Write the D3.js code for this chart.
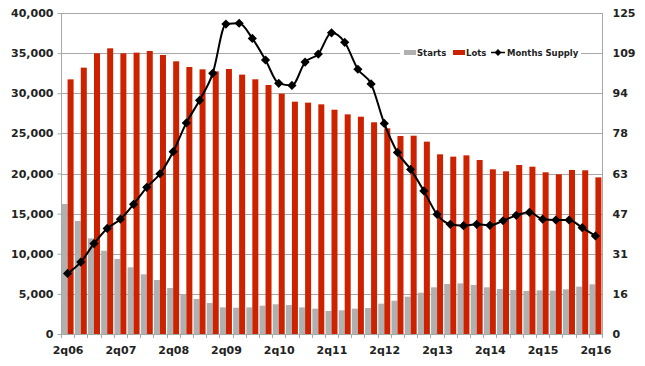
<!DOCTYPE html>
<html>
<head>
<meta charset="utf-8">
<script src="https://cdn.jsdelivr.net/npm/d3@7"></script>
<style>
  html, body { margin: 0; padding: 0; background: #fff; }
  svg { display: block; font-family: "DejaVu Sans", Verdana, sans-serif; }
</style>
</head>
<body>
<div id="chart"></div>
<script>
// quarters 2q06 .. 2q16
const quarters = [
  "2q06","3q06","4q06","1q07","2q07","3q07","4q07","1q08","2q08","3q08","4q08",
  "1q09","2q09","3q09","4q09","1q10","2q10","3q10","4q10","1q11","2q11","3q11",
  "4q11","1q12","2q12","3q12","4q12","1q13","2q13","3q13","4q13","1q14","2q14",
  "3q14","4q14","1q15","2q15","3q15","4q15","1q16","2q16"
];
const starts = [
  16200, 14080, 11920, 10380, 9350, 8310, 7440, 6730, 5730, 4900, 4360,
  3860, 3320, 3280, 3320, 3530, 3700, 3610, 3320, 3160, 2870, 2950,
  3160, 3240, 3780, 4150, 4650, 5150, 5820, 6230, 6310, 6110, 5820,
  5610, 5480, 5360, 5440, 5400, 5570, 5900, 6190
];
const lots = [
  31730, 33190, 34980, 35600, 34980, 35060, 35270, 34770, 33980, 33270, 32980,
  32730, 33020, 32320, 31740, 31030, 29950, 28950, 28830, 28620, 27950, 27370,
  27080, 26380, 25630, 24670, 24710, 23970, 22390, 22100, 22260, 21680, 20520,
  20270, 21060, 20850, 20150, 19900, 20440, 20400, 19520
];
const monthsSupply = [
  23.6, 28.0, 35.2, 41.1, 44.7, 50.5, 57.1, 62.4, 71.0, 82.2, 91.0,
  101.5, 120.7, 121.0, 115.1, 106.7, 97.6, 96.8, 105.9, 109.0, 117.3, 113.6,
  103.1, 97.4, 82.0, 70.7, 64.1, 55.7, 46.6, 42.7, 42.2, 42.7, 42.3,
  44.1, 46.2, 47.4, 44.7, 44.4, 44.4, 41.4, 38.2
];
const leftTicks = [0, 5000, 10000, 15000, 20000, 25000, 30000, 35000, 40000];
const rightTicks = [0, 15.625, 31.25, 46.875, 62.5, 78.125, 93.75, 109.375, 125];
const xLabels = ["2q06","2q07","2q08","2q09","2q10","2q11","2q12","2q13","2q14","2q15","2q16"];
const legendItems = ["Starts", "Lots", "Months Supply"];

const W = 645, H = 366;
const plot = { left: 61, right: 602, top: 13, bottom: 334 };
const COLORS = { starts: "#b0b0b0", lots: "#cc2200", line: "#000", grid: "#a8a8a8", text: "#222" };

const svg = d3.select("#chart").append("svg")
  .attr("width", W).attr("height", H);

const x = d3.scaleBand().domain(quarters).range([plot.left, plot.right]).padding(0);
const yL = d3.scaleLinear().domain([0, 40000]).range([plot.bottom, plot.top]);
const yR = d3.scaleLinear().domain([0, 125]).range([plot.bottom, plot.top]);

// gridlines
svg.append("g").selectAll("line")
  .data(leftTicks)
  .join("line")
  .attr("x1", plot.left).attr("x2", plot.right)
  .attr("y1", d => Math.round(yL(d)) + 0.5).attr("y2", d => Math.round(yL(d)) + 0.5)
  .attr("stroke", COLORS.grid).attr("stroke-width", 1);

// right border of plot area
svg.append("line")
  .attr("x1", plot.right + 0.5).attr("x2", plot.right + 0.5)
  .attr("y1", plot.top).attr("y2", plot.bottom)
  .attr("stroke", COLORS.grid);

// bars
const half = 6;
const bars = svg.append("g");
bars.selectAll("rect.starts")
  .data(quarters)
  .join("rect")
  .attr("class", "starts")
  .attr("x", (d) => x(d) + x.bandwidth() / 2 - half)
  .attr("width", half)
  .attr("y", (d, i) => yL(starts[i]))
  .attr("height", (d, i) => plot.bottom - yL(starts[i]))
  .attr("fill", COLORS.starts);
bars.selectAll("rect.lots")
  .data(quarters)
  .join("rect")
  .attr("class", "lots")
  .attr("x", (d) => x(d) + x.bandwidth() / 2)
  .attr("width", half)
  .attr("y", (d, i) => yL(lots[i]))
  .attr("height", (d, i) => plot.bottom - yL(lots[i]))
  .attr("fill", COLORS.lots);

// left axis
const axL = svg.append("g")
  .attr("transform", `translate(${plot.left + 0.5},0)`)
  .call(d3.axisLeft(yL).tickValues(leftTicks).tickSize(4).tickPadding(4)
    .tickFormat(d3.format(",")));
axL.select(".domain").attr("stroke", COLORS.grid).attr("d", `M0,${plot.top}V${plot.bottom}`);
axL.selectAll(".tick line").attr("stroke", COLORS.grid);
axL.selectAll("text").attr("font-size", 11).attr("font-weight", "bold")
  .attr("font-family", "DejaVu Sans").attr("fill", COLORS.text);

// right axis
const axR = svg.append("g")
  .attr("transform", `translate(${plot.right + 0.5},0)`)
  .call(d3.axisRight(yR).tickValues(rightTicks).tickSize(0).tickPadding(10)
    .tickFormat(d => Math.round(d)));
axR.select(".domain").remove();
axR.selectAll("text").attr("font-size", 11).attr("font-weight", "bold")
  .attr("font-family", "DejaVu Sans").attr("fill", COLORS.text);

// bottom axis
const axB = svg.append("g");
axB.append("line")
  .attr("x1", plot.left).attr("x2", plot.right)
  .attr("y1", plot.bottom + 0.5).attr("y2", plot.bottom + 0.5)
  .attr("stroke", COLORS.grid);
axB.selectAll("line.tk")
  .data(quarters.concat(["end"]))
  .join("line")
  .attr("class", "tk")
  .attr("x1", (d, i) => Math.round(plot.left + i * x.step()) + 0.5)
  .attr("x2", (d, i) => Math.round(plot.left + i * x.step()) + 0.5)
  .attr("y1", plot.bottom).attr("y2", plot.bottom + 4)
  .attr("stroke", COLORS.grid);
axB.selectAll("text")
  .data(xLabels)
  .join("text")
  .attr("x", d => x(d) + x.bandwidth() / 2 + 0.5)
  .attr("y", 354)
  .attr("text-anchor", "middle")
  .attr("font-size", 11).attr("font-weight", "bold")
  .attr("fill", COLORS.text)
  .text(d => d);

// months supply line
const line = d3.line()
  .x((d, i) => x(quarters[i]) + x.bandwidth() / 2)
  .y(d => yR(d))
  .curve(d3.curveMonotoneX);
svg.append("path")
  .datum(monthsSupply)
  .attr("d", line)
  .attr("fill", "none")
  .attr("stroke", COLORS.line)
  .attr("stroke-width", 2);
svg.append("g").selectAll("path")
  .data(monthsSupply)
  .join("path")
  .attr("d", d3.symbol(d3.symbolDiamond2, 54))
  .attr("transform", (d, i) => `translate(${x(quarters[i]) + x.bandwidth() / 2},${yR(d)})`)
  .attr("fill", COLORS.line);

// legend
const lg = svg.append("g").attr("font-size", 8.5).attr("font-weight", "bold").attr("fill", COLORS.text);
lg.append("rect").attr("x", 400).attr("y", 46).attr("width", 181).attr("height", 13).attr("fill", "#fff");
lg.append("rect").attr("x", 404).attr("y", 50).attr("width", 12).attr("height", 5).attr("fill", COLORS.starts);
lg.append("text").attr("x", 417).attr("y", 56).text(legendItems[0]);
lg.append("rect").attr("x", 453).attr("y", 50).attr("width", 12).attr("height", 5).attr("fill", COLORS.lots);
lg.append("text").attr("x", 466).attr("y", 56).text(legendItems[1]);
lg.append("line").attr("x1", 491).attr("x2", 505).attr("y1", 52.5).attr("y2", 52.5)
  .attr("stroke", COLORS.line).attr("stroke-width", 1.5);
lg.append("path").attr("d", d3.symbol(d3.symbolDiamond2, 30))
  .attr("transform", "translate(498,52.5)").attr("fill", COLORS.line);
lg.append("text").attr("x", 507).attr("y", 56).text(legendItems[2]);
</script>
</body>
</html>
